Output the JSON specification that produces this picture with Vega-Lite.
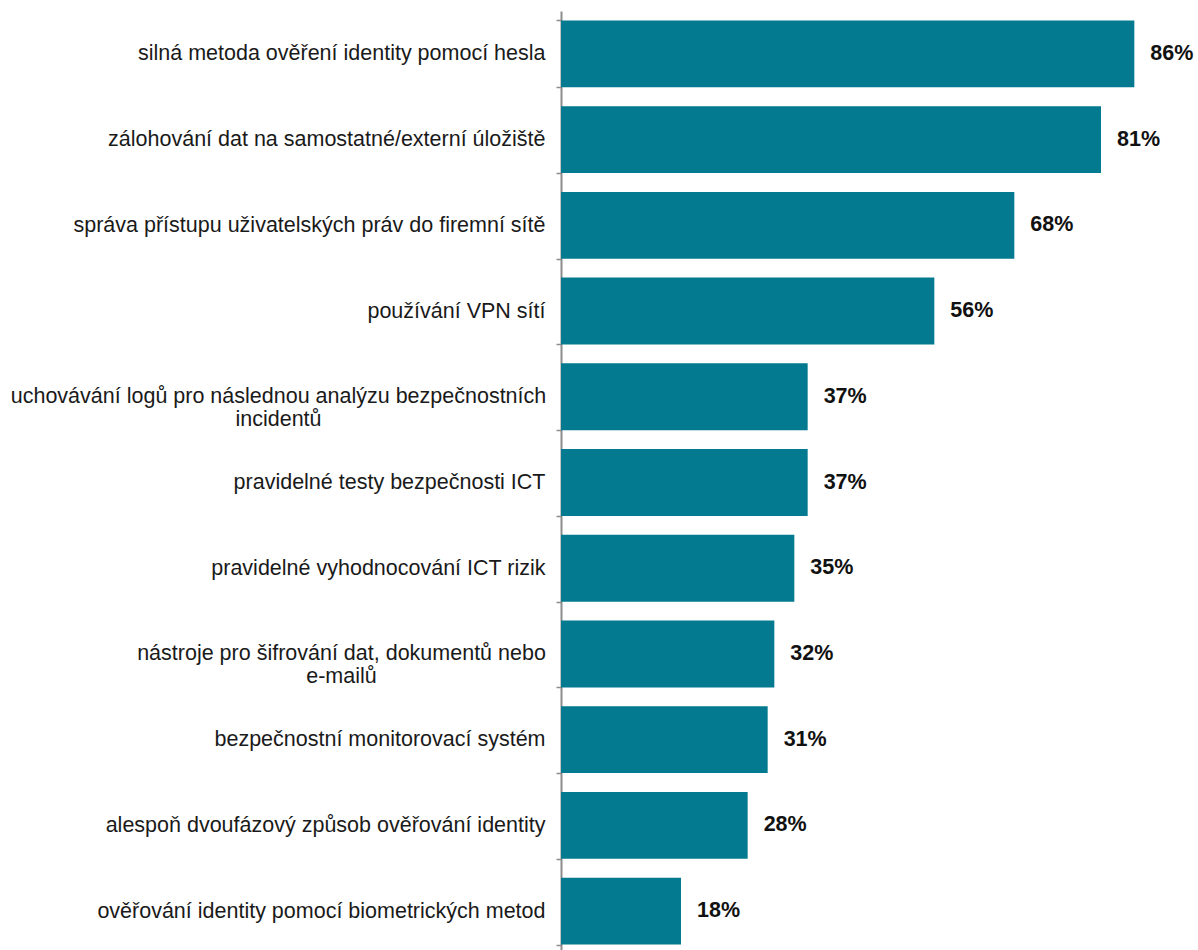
{
  "$schema": "https://vega.github.io/schema/vega-lite/v6.json",
  "width": 600,
  "height": 943,
  "autosize": "none",
  "padding": {"left": 561, "top": 11, "right": 37, "bottom": 0},
  "background": "white",
  "config": {"view": {"stroke": null}},
  "data": {
    "values": [
      {"item": "silná metoda ověření identity pomocí hesla", "value": 86, "label": "86%"},
      {"item": "zálohování dat na samostatné/externí úložiště", "value": 81, "label": "81%"},
      {"item": "správa přístupu uživatelských práv do firemní sítě", "value": 68, "label": "68%"},
      {"item": "používání VPN sítí", "value": 56, "label": "56%"},
      {"item": "uchovávání logů pro následnou analýzu bezpečnostních\nincidentů", "value": 37, "label": "37%"},
      {"item": "pravidelné testy bezpečnosti ICT", "value": 37, "label": "37%"},
      {"item": "pravidelné vyhodnocování ICT rizik", "value": 35, "label": "35%"},
      {"item": "nástroje pro šifrování dat, dokumentů nebo\ne-mailů", "value": 32, "label": "32%"},
      {"item": "bezpečnostní monitorovací systém", "value": 31, "label": "31%"},
      {"item": "alespoň dvoufázový způsob ověřování identity", "value": 28, "label": "28%"},
      {"item": "ověřování identity pomocí biometrických metod", "value": 18, "label": "18%"}
    ]
  },
  "encoding": {
    "y": {
      "field": "item",
      "type": "nominal",
      "sort": null,
      "scale": {"paddingInner": 0.22, "paddingOuter": 0.11},
      "axis": {
        "title": null,
        "domainColor": "#8c8c8c",
        "domainWidth": 2,
        "tickColor": "#8c8c8c",
        "tickWidth": 1.5,
        "tickSize": 5,
        "tickBand": "extent",
        "labelFont": "Liberation Sans",
        "labelFontSize": 21.5,
        "labelColor": "#1a1a1a",
        "labelAlign": {"condition": {"test": "isValid(datum.value) && indexof(datum.value, '\\n') >= 0", "value": "center"}, "value": "right"},
        "labelPadding": {"condition": [
          {"test": "isValid(datum.value) && indexof(datum.value, 'incident') >= 0", "value": 278},
          {"test": "isValid(datum.value) && indexof(datum.value, 'e-mail') >= 0", "value": 215}
        ], "value": 11},
        "labelLimit": 700,
        "labelLineHeight": 23,
        "labelExpr": "isValid(datum.value) ? split(datum.value, '\\n') : ''"
      }
    }
  },
  "layer": [
    {
      "mark": {"type": "bar", "color": "#037A8F"},
      "encoding": {
        "x": {"field": "value", "type": "quantitative", "scale": {"domain": [0, 90]}, "axis": null}
      }
    },
    {
      "mark": {"type": "text", "align": "left", "dx": 16, "font": "Liberation Sans", "fontSize": 21.5, "fontWeight": "bold", "color": "#111111"},
      "encoding": {
        "x": {"field": "value", "type": "quantitative"},
        "text": {"field": "label"}
      }
    }
  ]
}
